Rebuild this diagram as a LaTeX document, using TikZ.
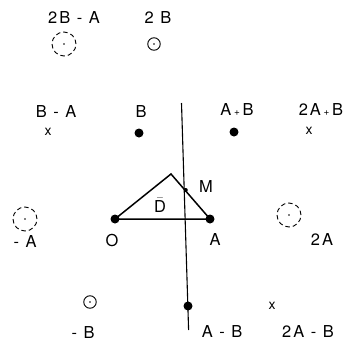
\documentclass[tikz,border=0pt]{standalone}
\usepackage{fontspec}
\setmainfont{TeX Gyre Heros}[LetterSpace=12]
\newcommand\plus{{\fontsize{10}{10}\selectfont+}}
\begin{document}
\begin{tikzpicture}[x=1bp, y=-1bp,
  lbl/.style={font=\fontsize{16.5}{18}\selectfont, inner sep=0pt},
  xmark/.style={font=\fontsize{14}{14}\selectfont, inner sep=0pt},
  pt/.style={circle, fill, inner sep=0pt, minimum size=9bp},
  ring/.style={circle, draw, line width=0.9bp, inner sep=0pt, minimum size=12.5bp},
  dring/.style={circle, draw, line width=0.9bp, dash pattern=on 4.5bp off 3bp,
    inner sep=0pt, minimum size=24bp}]
\useasboundingbox (0,0) rectangle (351,346);
% lattice points
\node[pt] (O) at (115,219) {};
\node[pt] (A) at (210,219) {};
\node[pt] (B) at (139,133) {};
\node[pt] (AB) at (234,132) {};
\node[pt] (AmB) at (188,306) {};
\node[xmark] (BmA) at (48,132) {x};
\node[xmark] (AAB) at (309,131) {x};
\node[xmark] (AAmB) at (272,306) {x};
% rings
\node[ring] (BB) at (154,44) {};
\node[ring] (mB) at (90,302) {};
\node[dring] (BBmA) at (64,44) {};
\node[dring] (mA) at (25,219) {};
\node[dring] (AA) at (289,215) {};
\foreach \c in {BB,mB,BBmA,mA,AA} \fill (\c.center) circle (0.8bp);
% triangle and the line through M
\coordinate (P) at (171,174);
\draw[line width=1.5bp] (O.center) -- (P) -- (A.center) -- cycle;
\coordinate (top) at (181.5,103);
\coordinate (bot) at (188.6,330);
\draw[line width=1.1bp] (top) -- (bot);
\node[circle, fill, inner sep=0pt, minimum size=4bp] (M) at (185.8,190) {};
% labels
\node[lbl] (lBBmA) at (74,18) {2B - A};
\node[lbl] (lBB) at (158,18) {2 B};
\node[lbl] (lBmA) at (56,112) {B - A};
\node[lbl] (lB) at (141,112) {B};
\node[lbl] (lAB) at (237,110) {A\,\plus\,B};
\node[lbl] (lAAB) at (321,110) {2A\,\plus\,B};
\node[lbl] (lM) at (206,187) {M};
\node[lbl] (lD) at (160,205) {$\bar{\mbox{D}}$};
\node[lbl] (lmA) at (25,242) {- A};
\node[lbl] (lO) at (112,241) {O};
\node[lbl] (lA) at (215,240) {A};
\node[lbl] (lAA) at (322,240) {2A};
\node[lbl] (lmB) at (83,333) {- B};
\node[lbl] (lAmB) at (222,332) {A - B};
\node[lbl] (lAAmB) at (308,332) {2A - B};
\end{tikzpicture}
\end{document}
